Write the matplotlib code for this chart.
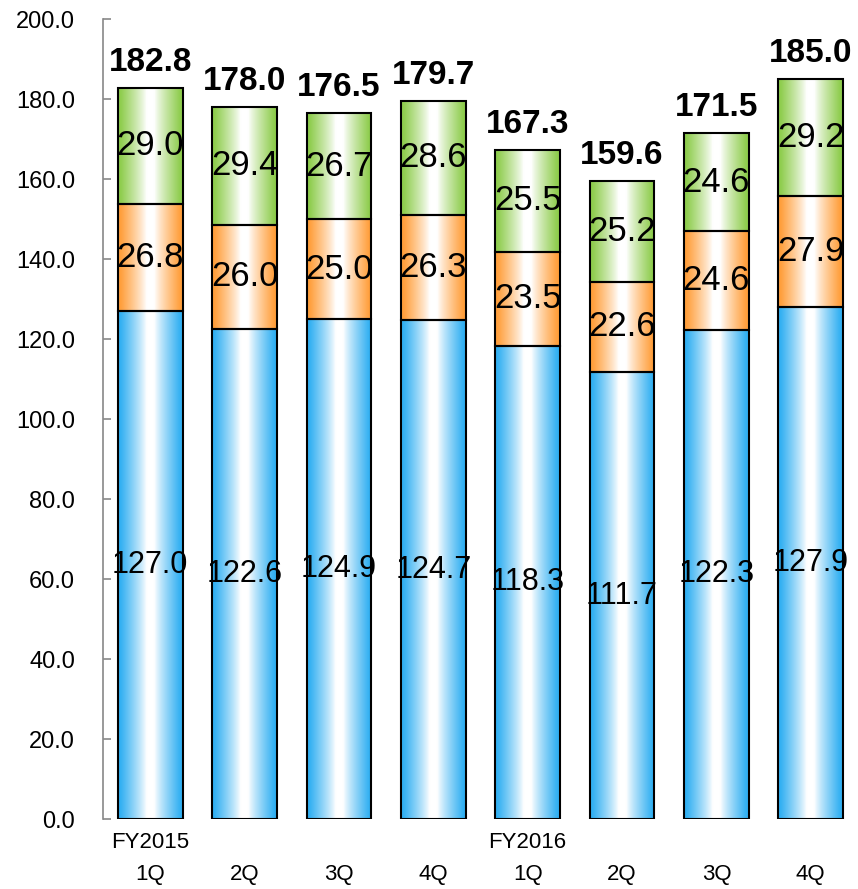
import numpy as np
import matplotlib
matplotlib.use("Agg")
import matplotlib.pyplot as plt
from matplotlib.colors import to_rgb

plt.rcParams['font.family'] = ['Liberation Sans', 'DejaVu Sans']

quarters = ["1Q", "2Q", "3Q", "4Q", "1Q", "2Q", "3Q", "4Q"]
fiscal_years = ["FY2015", "", "", "", "FY2016", "", "", ""]
series_blue = [127.0, 122.6, 124.9, 124.7, 118.3, 111.7, 122.3, 127.9]
series_orange = [26.8, 26.0, 25.0, 26.3, 23.5, 22.6, 24.6, 27.9]
series_green = [29.0, 29.4, 26.7, 28.6, 25.5, 25.2, 24.6, 29.2]
totals = [182.8, 178.0, 176.5, 179.7, 167.3, 159.6, 171.5, 185.0]

colors = ["#33B0F2", "#FF9F3C", "#8FCD4E"]
label_sizes = [22, 25, 25]

fig = plt.figure(figsize=(8.58, 8.89), dpi=100)
ax = fig.add_axes([103 / 858, 70 / 889, 1 - 103 / 858, 800 / 889])

x = np.arange(len(quarters))
width = 0.685

def gradient_image(color):
    c = np.array(to_rgb(color))
    t = np.linspace(0, 1, 256)
    d = np.clip((np.abs(t - 0.5) * 2 - 0.12) / 0.80, 0, 1) ** 0.85
    img = 1 - d[:, None] * (1 - c[None, :])
    return img[None, :, :]

bottom = np.zeros(len(quarters))
for vals, col, fs in zip([series_blue, series_orange, series_green], colors, label_sizes):
    vals = np.array(vals)
    bars = ax.bar(x, vals, width, bottom=bottom, facecolor='none',
                  edgecolor='black', linewidth=1.5, zorder=3)
    img = gradient_image(col)
    for rect, v, b in zip(bars, vals, bottom):
        x0 = rect.get_x()
        im = ax.imshow(img, extent=[x0, x0 + width, b, b + v], aspect='auto',
                       zorder=2, interpolation='bilinear')
        im.set_clip_path(rect)
        ax.text(rect.get_x() + width / 2, b + v / 2, f"{v:.1f}", ha='center',
                va='center', fontsize=fs, zorder=4)
    bottom = bottom + vals

for xi, tot, top in zip(x, totals, bottom):
    ax.annotate(f"{tot:.1f}", xy=(xi, top), xytext=(0, 12), textcoords='offset points',
                ha='center', va='baseline', fontsize=24, fontweight='bold')

ax.set_xlim(-0.5, len(quarters) - 0.5)
ax.set_ylim(0, 200)
ax.set_yticks(np.arange(0, 201, 20))
ax.set_yticklabels([f"{v:.1f}" for v in np.arange(0, 201, 20)], fontsize=17)
ax.tick_params(axis='y', direction='in', length=6, color='#888888', width=1.2, pad=20)
ax.set_xticks(x)
ax.set_xticklabels([])
ax.tick_params(axis='x', length=0)
for s in ['top', 'right', 'bottom']:
    ax.spines[s].set_visible(False)
ax.spines['left'].set_color('#888888')
ax.spines['left'].set_linewidth(1.2)

for xi, q, fy in zip(x, quarters, fiscal_years):
    ax.annotate(q, xy=(xi, 0), xycoords=('data', 'axes fraction'), xytext=(0, -40.3),
                textcoords='offset points', ha='center', va='center', fontsize=16,
                annotation_clip=False)
    if fy:
        ax.annotate(fy, xy=(xi, 0), xycoords=('data', 'axes fraction'), xytext=(0, -16.6),
                    textcoords='offset points', ha='center', va='center', fontsize=16,
                    annotation_clip=False)

fig.savefig("out.png", dpi=100)
